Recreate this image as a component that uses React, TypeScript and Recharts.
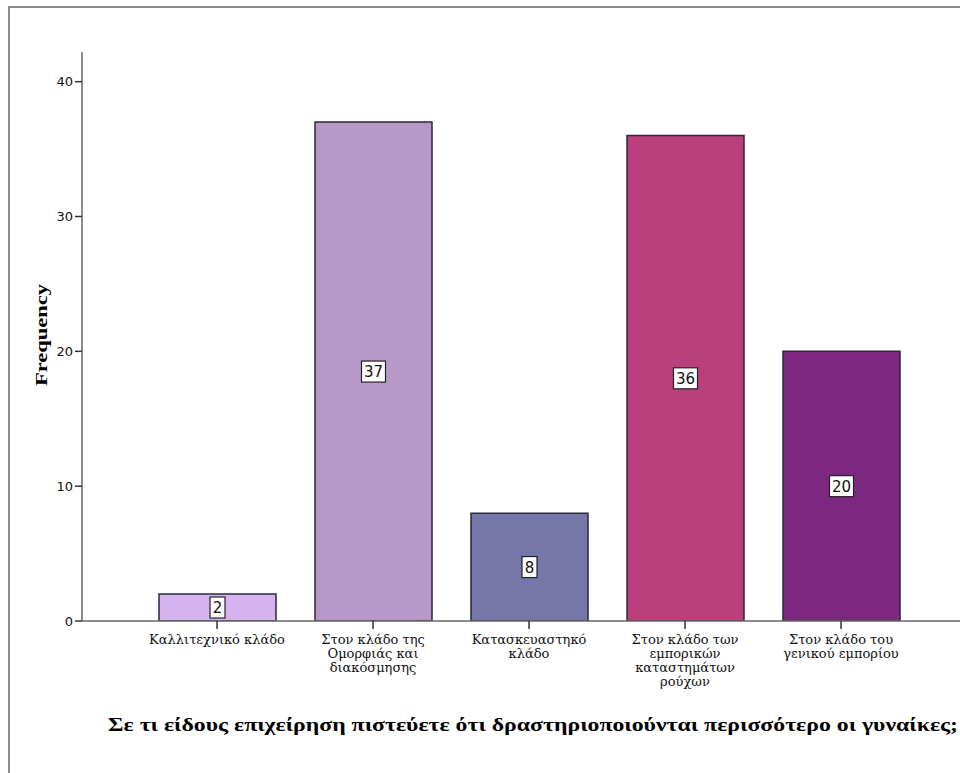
import React from 'react';
import { BarChart, Bar, XAxis, YAxis, Cell, LabelList } from 'recharts';

const categories = [
  'Καλλιτεχνικό κλάδο',
  'Στον κλάδο της Ομορφιάς και διακόσμησης',
  'Κατασκευαστηκό κλάδο',
  'Στον κλάδο των εμπορικών καταστημάτων ρούχων',
  'Στον κλάδο του γενικού εμπορίου',
];
const tickLines = [
  ['Καλλιτεχνικό κλάδο'],
  ['Στον κλάδο της', 'Ομορφιάς και', 'διακόσμησης'],
  ['Κατασκευαστηκό', 'κλάδο'],
  ['Στον κλάδο των', 'εμπορικών', 'καταστημάτων', 'ρούχων'],
  ['Στον κλάδο του', 'γενικού εμπορίου'],
];
const frequencies = [2, 37, 8, 36, 20];
const barColors = ['#d8b3f1', '#b799c9', '#7677a8', '#bb3f7c', '#7d2880'];
const yTicks = [0, 10, 20, 30, 40];
const yTitle = 'Frequency';
const xTitle = 'Σε τι είδους επιχείρηση πιστεύετε ότι δραστηριοποιούνται περισσότερο οι γυναίκες;';

const data = categories.map((c, i) => ({ category: c, value: frequencies[i] }));

const XTick = (props: any) => {
  const { x, y, payload } = props;
  const idx = categories.indexOf(payload.value);
  const lines = tickLines[idx] || [payload.value];
  return (
    <g>
      {lines.map((l: string, i: number) => (
        <text
          key={i}
          x={x}
          y={y + 13 + i * 14}
          textAnchor="middle"
          fontFamily="'DejaVu Serif', serif"
          fontSize={13}
          fill="#111"
        >
          {l}
        </text>
      ))}
    </g>
  );
};

const ValueLabel = (props: any) => {
  const { x, y, width, height, value } = props;
  const cx = x + width / 2;
  const cy = y + height / 2;
  const s = String(value);
  const w = s.length > 1 ? 24 : 15;
  const h = 21;
  return (
    <g>
      <rect x={cx - w / 2} y={cy - h / 2} width={w} height={h} fill="#ffffff" stroke="#222" strokeWidth={1.2} />
      <text x={cx} y={cy + 5.5} textAnchor="middle" fontFamily="'DejaVu Sans', sans-serif" fontSize={15} fill="#111">
        {s}
      </text>
    </g>
  );
};

export default function App() {
  return (
    <div style={{ position: 'fixed', left: 0, top: 0, width: 960, height: 773, overflow: 'hidden', background: '#fff' }}>
      <div
        style={{
          position: 'absolute',
          left: 8,
          top: 6,
          width: 1000,
          height: 1000,
          borderTop: '2px solid #8c8c8c',
          borderLeft: '2px solid #8c8c8c',
          boxSizing: 'border-box',
        }}
      />
      <div style={{ position: 'absolute', left: 0, top: 0 }}>
        <BarChart
          width={960}
          height={773}
          data={data}
          margin={{ top: 52, right: 0, bottom: 0, left: 0 }}
        >
          <XAxis
            dataKey="category"
            height={152}
            padding={{ left: 57, right: 41 }}
            axisLine={{ stroke: '#666', strokeWidth: 1.5 }}
            tickLine={{ stroke: '#333', strokeWidth: 1.5 }}
            tickSize={8}
            tick={<XTick />}
            interval={0}
            label={(p: any) => {
              const vb = p.viewBox;
              return (
                <text
                  x={533}
                  y={vb.y + 110}
                  textAnchor="middle"
                  fontFamily="'Liberation Serif', serif"
                  fontWeight="bold"
                  fontSize={18}
                  textLength={850}
                  lengthAdjust="spacingAndGlyphs"
                  fill="#000"
                >
                  {xTitle}
                </text>
              );
            }}
          />
          <YAxis
            width={82}
            domain={[0, 42.2]}
            ticks={yTicks}
            allowDataOverflow
            axisLine={{ stroke: '#666', strokeWidth: 1.5 }}
            tickLine={{ stroke: '#333', strokeWidth: 1.5 }}
            tickSize={7}
            tickMargin={2}
            tick={{ fontFamily: "'DejaVu Sans', sans-serif", fontSize: 13, fill: '#111' }}
            label={() => {
              return (
                <text
                  x={0}
                  y={0}
                  transform={`translate(47, 335) rotate(-90)`}
                  textAnchor="middle"
                  fontFamily="'Liberation Serif', serif"
                  fontWeight="bold"
                  fontSize={17}
                  textLength={102}
                  lengthAdjust="spacingAndGlyphs"
                  fill="#000"
                >
                  {yTitle}
                </text>
              );
            }}
          />
          <Bar dataKey="value" barSize={117} stroke="#2a2a3a" strokeWidth={1.5} isAnimationActive={false}>
            {data.map((d, i) => (
              <Cell key={i} fill={barColors[i]} />
            ))}
            <LabelList dataKey="value" content={<ValueLabel />} />
          </Bar>
        </BarChart>
      </div>
    </div>
  );
}
